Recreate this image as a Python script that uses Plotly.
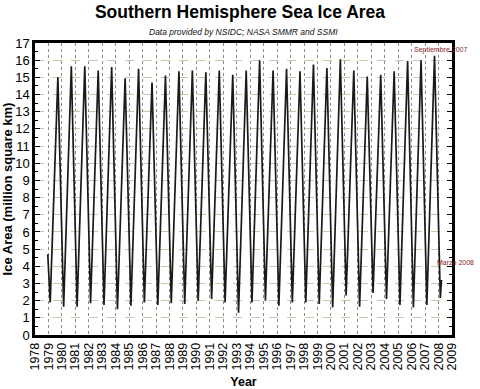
import plotly.graph_objects as go

# ---- data ----
start_point = (1978.95, 4.7)
trough_years = list(range(1979, 2009))
trough_vals = [1.9, 1.65, 1.65, 1.85, 1.75, 1.5, 1.7, 1.9, 1.75, 1.85,
               1.8, 2.0, 2.1, 1.9, 1.3, 1.9, 2.0, 1.7, 1.9, 1.9,
               1.8, 1.6, 2.3, 1.65, 2.45, 2.1, 1.75, 1.6, 1.75, 2.15]
peak_years = list(range(1979, 2008))
peak_vals = [15.0, 15.65, 15.65, 15.4, 15.6, 14.95, 15.5, 14.7, 15.1, 15.35,
             15.4, 15.3, 15.4, 15.15, 15.4, 16.0, 15.4, 15.5, 15.35, 15.75,
             15.55, 16.05, 15.4, 15.05, 15.15, 15.35, 15.95, 16.0, 16.25]
end_point = (2008.22, 3.2)
TROUGH_OFFSET = 0.13   # February
PEAK_OFFSET = 0.70     # September

year_ticks = list(range(1978, 2010))
year_labels = [str(y) for y in year_ticks]
y_ticks = list(range(0, 18))

# assemble time-ordered series
pts = [start_point]
pts += [(y + TROUGH_OFFSET, v) for y, v in zip(trough_years, trough_vals)]
pts += [(y + PEAK_OFFSET, v) for y, v in zip(peak_years, peak_vals)]
pts.append(end_point)
pts.sort(key=lambda p: p[0])
xs = [p[0] for p in pts]
ys = [p[1] for p in pts]

fig = go.Figure()
fig.add_trace(go.Scatter(x=xs, y=ys, mode="lines",
                         line=dict(color="#1a1a1a", width=1.7),
                         hoverinfo="skip", showlegend=False))

fig.update_layout(
    width=480, height=389,
    margin=dict(l=35, r=28, t=43, b=54),
    paper_bgcolor="white", plot_bgcolor="white",
    font=dict(family="Liberation Sans, Arial, sans-serif", color="black"),
    title=dict(text="<b>Southern Hemisphere Sea Ice Area</b>",
               x=0.5, xanchor="center", y=0.970, yanchor="middle",
               font=dict(size=17.5, family="Liberation Sans, Arial, sans-serif")),
    annotations=[
        dict(text="<i>Data provided by NSIDC; NASA SMMR and SSMI</i>",
             xref="paper", yref="paper", x=0.5, y=1.0, yshift=11,
             xanchor="center", yanchor="middle", showarrow=False,
             font=dict(size=8.5, color="#111")),
        dict(text="Septiembre 2007", xref="paper", yref="paper", x=1.041, y=0.976,
             xanchor="right", yanchor="middle", showarrow=False,
             font=dict(size=7, color="#8b1a1a")),
        dict(text="Marzo 2008", xref="paper", yref="paper", x=1.0576, y=0.25,
             xanchor="right", yanchor="middle", showarrow=False,
             font=dict(size=7, color="#8b1a1a")),
    ],
)

fig.update_xaxes(
    range=[1978, 2009], tickmode="array", tickvals=year_ticks, ticktext=year_labels,
    tickangle=-90, tickfont=dict(size=12.5),
    showgrid=True, gridcolor="#8a8a8a", griddash="dot", gridwidth=1,
    showline=True, linecolor="black", linewidth=2.5, mirror=True,
    ticks="", zeroline=False,
    title=dict(text="<b>Year</b>", font=dict(size=12.5), standoff=12),
    automargin=False,
)
fig.update_yaxes(
    range=[0, 17], tickmode="array", tickvals=y_ticks,
    tickfont=dict(size=13),
    showgrid=True, gridcolor="#c9c9a6", griddash="dash", gridwidth=1,
    showline=True, linecolor="black", linewidth=2.5, mirror="allticks",
    ticks="inside", ticklen=5, tickcolor="black",
    minor=dict(ticks="inside", ticklen=3, dtick=0.5, tickcolor="black", showgrid=False),
    zeroline=False,
    title=dict(text="<b>Ice Area (million square km)</b>", font=dict(size=13), standoff=2),
    automargin=False,
)

fig.write_html("out.html")
